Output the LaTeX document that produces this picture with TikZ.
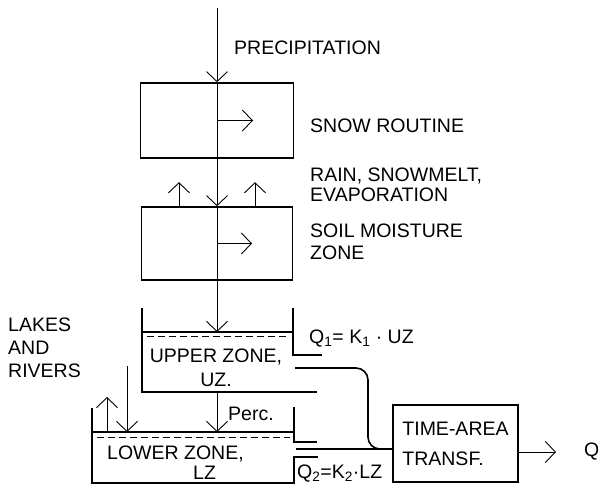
\documentclass[tikz,border=0pt]{standalone}
\usepackage{fontspec}
\setmainfont{Liberation Sans}
\usetikzlibrary{arrows.meta}
\tikzstyle{box} = [rectangle, draw, line width=1.6pt]
\tikzstyle{arrow} = [-{Straight Barb[length=10pt,width=21pt]}, line width=0.9pt]
\tikzstyle{flow} = [line width=0.9pt]
\tikzstyle{wall} = [line width=1.6pt, line join=miter]
\tikzstyle{level} = [dash pattern=on 7pt off 4pt, line width=0.8pt]
\tikzstyle{lbl} = [inner sep=0pt, anchor=north west, align=left]

\begin{document}
\begin{tikzpicture}[x=1pt, y=-1pt, font=\fontsize{19.5}{23}\selectfont]
        \useasboundingbox (0,0) rectangle (598,489);
        % Nodes
        \node (snow) [box, minimum width=153pt, minimum height=75pt] at (217,120.5) {};
        \node (soil) [box, minimum width=151pt, minimum height=73pt] at (217,243.5) {};
        \node (time) [box, minimum width=125pt, minimum height=77pt, align=left] at (455.5,443.5) {TIME-AREA\\[7pt]TRANSF.};

        % Upper zone
        \coordinate (uztop) at (217,332);
        \coordinate (uzbot) at (217,392);
        \coordinate (uzout) at (295,368);
        \draw[wall] (142,308) -- (142,392) -- (317,392);
        \draw[wall] (293,308) -- (293,355) -- (322,355);
        \draw[wall] (142,332) -- (293,332);
        \draw[level] (147,336) -- (290,336);

        % Lower zone
        \coordinate (lztop) at (217,432);
        \coordinate (lzout) at (296,449);
        \draw[wall] (92,408) -- (92,483) -- (294,483) -- (294,457) -- (318,457);
        \draw[wall] (294,407) -- (294,442) -- (317,442);
        \draw[wall] (92,432) -- (294,432);
        \draw[level] (97,437) -- (290,437);

        % Arrows
        \coordinate (prec) at (217,8);
        \coordinate (lake) at (127,366);
        \coordinate (evap) at (107,397);
        \coordinate (qend) at (556,452);
        \draw[arrow] (prec) -- (snow.north);
        \draw[flow] (snow.north) -- (snow.south);
        \draw[arrow] (snow.center) -- ++(36,0);
        \draw[arrow] (snow.south) -- (soil.north);
        \draw[flow] (soil.north) -- (soil.south);
        \draw[arrow] (soil.center) -- ++(35,0);
        \draw[arrow] (soil.north) ++(-38,0) -- ++(0,-24);
        \draw[arrow] (soil.north) ++(38,0) -- ++(0,-24);
        \draw[arrow] (soil.south) -- (uztop);
        \draw[arrow] (uzbot) -- (lztop);
        \draw[arrow] (lake) -- (lake |- lztop);
        \draw[arrow] (evap |- lztop) -- (evap);
        \draw[wall, rounded corners=12pt] (uzout) -| (368,449) -- (time.west |- lzout);
        \draw[wall] (lzout) -- (time.west |- lzout);
        \draw[arrow] (time.east |- qend) -- (qend);

        % Labels
        \node (prectext) [lbl] at (234,41) {PRECIPITATION};
        \node (snowtext) [lbl] at (310,119) {SNOW ROUTINE};
        \node (raintext) [lbl] at (310,168) {RAIN, SNOWMELT,\\[-3pt]EVAPORATION};
        \node (soiltext) [lbl] at (310,224) {SOIL MOISTURE\\[-1pt]ZONE};
        \node (laketext) [lbl] at (8,318) {LAKES\\AND\\RIVERS};
        \node (uztext) [lbl, anchor=north, align=center] at (216,349) {UPPER ZONE,\\[1pt]UZ.};
        \node (lztext) [lbl] at (107,446) {LOWER ZONE,\\[-3pt]\hspace*{86pt}LZ};
        \node (perctext) [lbl] at (228,407) {Perc.};
        \node (q1text) [lbl] at (309,330) {Q\textsubscript{1}= K\textsubscript{1} · UZ};
        \node (q2text) [lbl] at (297,465) {Q\textsubscript{2}=K\textsubscript{2}·LZ};
        \node (qtext) [lbl] at (584,443) {Q};
\end{tikzpicture}
\end{document}
